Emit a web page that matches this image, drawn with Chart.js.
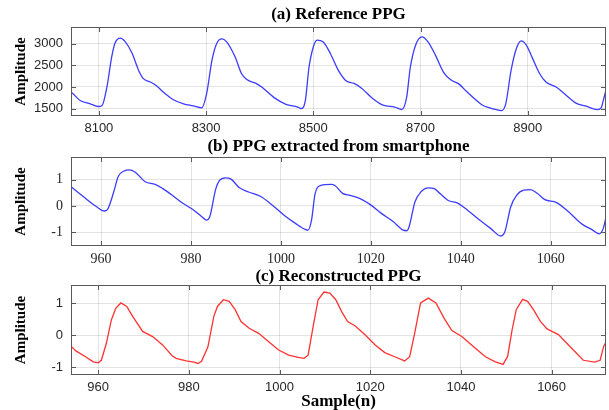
<!DOCTYPE html>
<html><head><meta charset="utf-8">
<script src="https://cdn.jsdelivr.net/npm/chart.js@4.4.0/dist/chart.umd.min.js"></script>
<style>
html,body{margin:0;padding:0;background:#fff;}
#wrap{position:relative;width:609px;height:410px;overflow:hidden;background:#fff;}
#wrap canvas{position:absolute;left:0;top:0;}
</style></head><body>
<div id="wrap">
<canvas id="ca" width="609" height="410"></canvas>
<canvas id="cb" width="609" height="410"></canvas>
<canvas id="cc" width="609" height="410"></canvas>
</div>
<script>
// ---- data ----
const titles = ['(a) Reference PPG', '(b) PPG extracted from smartphone', '(c) Reconstructed PPG'];
const yLabel = 'Amplitude';
const xLabel = 'Sample(n)';

const aXTicks = [8100, 8300, 8500, 8700, 8900];
const aYTicks = [1500, 2000, 2500, 3000];
const bcXTicks = [960, 980, 1000, 1020, 1040, 1060];
const bcYTicks = [-1, 0, 1];

const aSamples = [8048, 8050, 8065, 8084, 8099, 8106, 8115, 8124, 8130, 8140, 8149, 8162, 8174, 8183, 8196, 8208, 8220, 8239, 8258, 8276, 8292,
  8301, 8311, 8320, 8329, 8338, 8354, 8366, 8376, 8394, 8405, 8427, 8449, 8471, 8477,
  8485, 8492, 8500, 8507, 8518, 8532, 8547, 8561, 8576, 8590, 8609, 8630, 8652, 8665,
  8674, 8681, 8692, 8703, 8714, 8728, 8743, 8757, 8772, 8786, 8805, 8815, 8829, 8840, 8851,
  8859, 8869, 8879, 8888, 8897, 8909, 8922, 8934, 8953, 8972, 8990, 9009, 9030, 9037, 9041, 9046];
const aValues = [1870, 1858, 1687, 1609, 1546, 1570, 2000, 2702, 3016, 3134, 3054, 2782, 2390, 2195, 2116, 2023, 1882, 1703, 1609, 1562, 1515,
  1844, 2625, 3016, 3117, 3054, 2702, 2313, 2172, 2078, 1987, 1752, 1595, 1532, 1500,
  1673, 2458, 2929, 3086, 3047, 2772, 2380, 2144, 2082, 1972, 1752, 1579, 1532, 1477,
  1752, 2458, 3008, 3165, 3047, 2733, 2340, 2160, 2066, 1893, 1680, 1580, 1515, 1480, 1452,
  1609, 2390, 2899, 3070, 2977, 2664, 2313, 2116, 2000, 1804, 1624, 1553, 1476, 1515, 1687, 1930];

const bSamples = [953.3, 956, 959, 960.7, 961.4, 962.2, 963, 963.8, 965, 966.3, 967.6, 969.8, 972, 973.7, 975.9, 978.1, 980.7, 982.9, 983.4, 984.2,
  985.5, 986.3, 987.6, 988.9, 990.7, 992.8, 995.5, 998.1, 1000.7, 1003.3, 1005.4, 1006, 1006.8, 1007.6, 1008.9, 1011.1, 1012, 1013.7, 1015.4,
  1017.6, 1019.8, 1022.4, 1025, 1027.2, 1028, 1028.5, 1029.8, 1031.1, 1032.8, 1034.1, 1035.4, 1037.2, 1039.3, 1041.5, 1044.1, 1046.7, 1048.9,
  1049.8, 1051.1, 1052.4, 1054, 1055.5, 1057, 1058.7, 1061.3, 1063.9, 1066.9, 1069.1, 1070.8, 1071.7, 1072.4];
const bValues = [0.73, 0.36, -0.03, -0.19, -0.14, 0.2, 0.65, 1.12, 1.32, 1.37, 1.28, 0.92, 0.82, 0.66, 0.40, 0.11, -0.17, -0.48, -0.54, -0.39,
  0.65, 0.96, 1.07, 1.02, 0.70, 0.53, 0.36, 0.03, -0.35, -0.67, -0.89, -0.92, -0.54, 0.47, 0.78, 0.82, 0.78, 0.48, 0.40,
  0.28, 0.06, -0.29, -0.60, -0.92, -0.94, -0.79, 0.15, 0.53, 0.69, 0.66, 0.47, 0.21, 0.11, -0.16, -0.52, -0.86, -1.14,
  -0.98, -0.04, 0.40, 0.60, 0.62, 0.48, 0.24, 0.13, -0.21, -0.68, -0.89, -1.06, -0.85, -0.34];

const cSamples = [953.6, 955, 957.2, 958.9, 960, 960.7, 961.8, 962.9, 963.9, 965, 966.3, 967.6, 969.8, 972, 974.2, 976.3, 977.2, 979.4, 981.1, 982,
  982.8, 984.2, 985.5, 986.3, 987.6, 988.9, 990.2, 991.5, 993.3, 995.4, 997.6, 999.8, 1002, 1004.1, 1005.4, 1006.3, 1007.4, 1008.5, 1009.8,
  1011.1, 1012.4, 1013.7, 1015, 1016.7, 1018.9, 1021.1, 1023.2, 1025.4, 1027.6, 1028.7, 1029.8, 1031.1, 1032.8, 1034.5, 1036.3, 1038, 1040.2,
  1042.8, 1045.4, 1047.6, 1049.3, 1050.3, 1051.3, 1052.2, 1053.6, 1054.7, 1056, 1057.5, 1059, 1061.5, 1064, 1067, 1069.5, 1070.7, 1071.5, 1072.1];
const cValues = [-0.28, -0.48, -0.67, -0.83, -0.86, -0.78, -0.25, 0.48, 0.85, 1.01, 0.90, 0.59, 0.12, -0.04, -0.30, -0.64, -0.72, -0.80, -0.84, -0.88,
  -0.81, -0.36, 0.59, 0.90, 1.11, 1.06, 0.80, 0.43, 0.22, 0.06, -0.20, -0.46, -0.62, -0.69, -0.72, -0.62, 0.27, 1.11, 1.35,
  1.32, 1.11, 0.74, 0.43, 0.29, 0.01, -0.30, -0.54, -0.67, -0.80, -0.67, 0.06, 1.01, 1.16, 1.01, 0.53, 0.15, -0.04,
  -0.36, -0.67, -0.83, -0.91, -0.66, 0.18, 0.80, 1.12, 1.06, 0.80, 0.44, 0.20, 0.02, -0.34, -0.78, -0.84, -0.78, -0.34, -0.19];

// ---- drawing ----
const SERIF = '"Liberation Serif", "Times New Roman", serif';
const SANS = '"Liberation Sans", Arial, sans-serif';
const W = 609, H = 410;

const boxPlugin = {
  id: 'matBox',
  afterDraw(chart, args, opts) {
    const {ctx, chartArea: {left, top, right, bottom}, scales: {x, y}} = chart;
    ctx.save();
    ctx.strokeStyle = '#595959';
    ctx.lineWidth = 1;
    ctx.beginPath();
    const tl = 5;
    x.ticks.forEach(t => {
      const px = Math.round(x.getPixelForValue(t.value)) + 0.5;
      ctx.moveTo(px, bottom); ctx.lineTo(px, bottom - tl);
      ctx.moveTo(px, top); ctx.lineTo(px, top + tl);
    });
    y.ticks.forEach(t => {
      const py = Math.round(y.getPixelForValue(t.value)) + 0.5;
      ctx.moveTo(left, py); ctx.lineTo(left + tl, py);
      ctx.moveTo(right, py); ctx.lineTo(right - tl, py);
    });
    ctx.stroke();
    ctx.strokeRect(left + 0.5, top + 0.5, right - left - 1, bottom - top - 1);
    ctx.fillStyle = '#000';
    ctx.font = 'bold 17px ' + SERIF;
    ctx.textAlign = 'center';
    ctx.textBaseline = 'middle';
    ctx.fillText(opts.text, (left + right) / 2, opts.y);
    ctx.restore();
  }
};

function makePanel(id, p) {
  const pts = p.xs.map((v, i) => ({x: v, y: p.ys[i]}));
  const xAxisH = p.xTitle ? H - p.bottom : 24;
  return new Chart(document.getElementById(id), {
    type: 'line',
    data: {datasets: [{
      data: pts,
      borderColor: p.color,
      borderWidth: 1.3,
      pointRadius: 0,
      fill: false,
      tension: p.smooth ? 0.4 : 0,
      cubicInterpolationMode: p.smooth ? 'monotone' : 'default'
    }]},
    plugins: [boxPlugin],
    options: {
      responsive: false,
      animation: false,
      devicePixelRatio: 1,
      layout: {padding: {left: 0, right: 3, top: p.top, bottom: H - p.bottom - xAxisH}},
      plugins: {legend: {display: false}, tooltip: {enabled: false}, matBox: {text: p.title, y: p.titleY}},
      scales: {
        x: {
          type: 'linear', min: p.xMin, max: p.xMax,
          afterBuildTicks: s => { s.ticks = p.xTicks.map(v => ({value: v})); },
          afterFit: s => { s.height = xAxisH; },
          grid: {color: 'rgba(38,38,38,0.13)', drawTicks: false, lineWidth: 1},
          border: {display: false},
          ticks: {padding: p.xTickPad, color: '#262626', font: {family: p.tickFamily, size: p.tickSize, lineHeight: 1.2},
                  maxRotation: 0, autoSkip: false, callback: v => String(v)},
          title: p.xTitle ? {display: true, text: p.xTitle, color: '#000',
                  font: {family: SERIF, size: 17, weight: 'bold', lineHeight: 1}, padding: {top: 0, bottom: 0}} : {display: false}
        },
        y: {
          type: 'linear', min: p.yMin, max: p.yMax,
          afterBuildTicks: s => { s.ticks = p.yTicks.map(v => ({value: v})); },
          afterFit: s => { s.width = 71; },
          grid: {color: 'rgba(38,38,38,0.13)', drawTicks: false, lineWidth: 1},
          border: {display: false},
          ticks: {padding: 8, color: '#262626', font: {family: p.tickFamily, size: p.tickSize}, autoSkip: false,
                  callback: v => String(v)},
          title: {display: true, text: yLabel, color: '#000',
                  font: {family: SERIF, size: 15, weight: 'bold', lineHeight: 1.2}, padding: {top: 12, bottom: 0}}
        }
      }
    }
  });
}

makePanel('ca', {xs: aSamples, ys: aValues, color: 'rgb(60,60,255)', smooth: true,
  xMin: 8048, xMax: 9046, yMin: 1326, yMax: 3392, xTicks: aXTicks, yTicks: aYTicks,
  top: 27, bottom: 116, title: titles[0], titleY: 15, tickFamily: SANS, tickSize: 13, xTickPad: 5});
makePanel('cb', {xs: bSamples, ys: bValues, color: 'rgb(60,60,255)', smooth: true,
  xMin: 953.3, xMax: 1072.3, yMin: -1.52, yMax: 1.86, xTicks: bcXTicks, yTicks: bcYTicks,
  top: 157, bottom: 246, title: titles[1], titleY: 147, tickFamily: SERIF, tickSize: 14, xTickPad: 5});
makePanel('cc', {xs: cSamples, ys: cValues, color: 'rgb(255,50,50)', smooth: false,
  xMin: 954, xMax: 1072, yMin: -1.24, yMax: 1.57, xTicks: bcXTicks, yTicks: bcYTicks,
  top: 285, bottom: 375, title: titles[2], titleY: 277, tickFamily: SANS, tickSize: 13, xTickPad: 5, xTitle: xLabel});
</script>
</body></html>
